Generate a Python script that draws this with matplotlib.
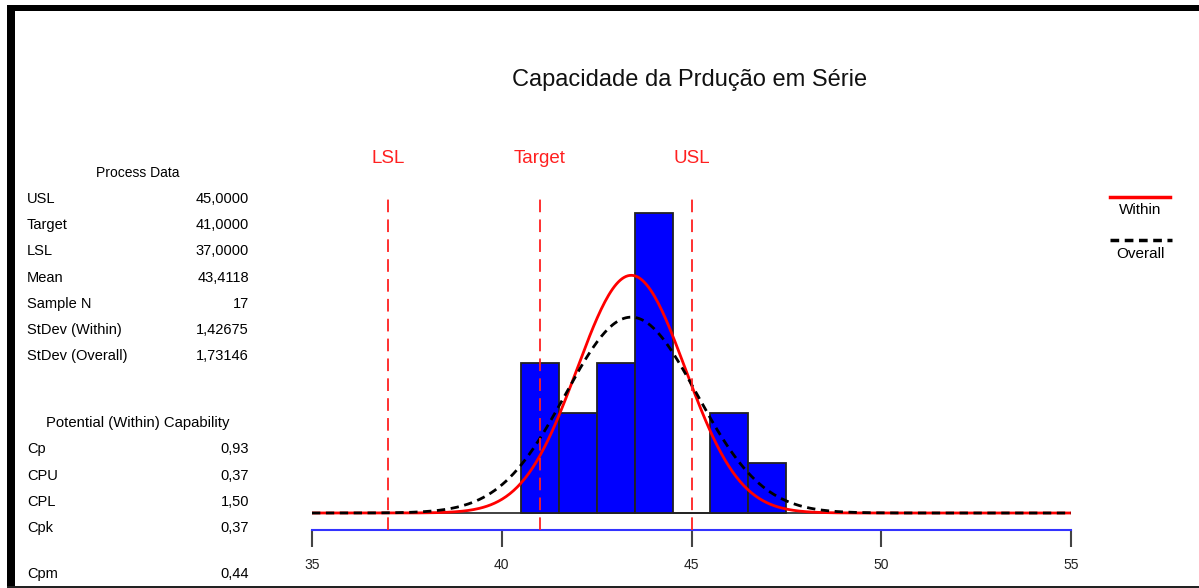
import matplotlib
matplotlib.use("Agg")
import matplotlib.pyplot as plt
import numpy as np
from matplotlib.lines import Line2D
from matplotlib.patches import Rectangle

plt.rcParams['font.family'] = ['Liberation Sans', 'DejaVu Sans']

# histogram data (bin edges, counts)
bin_edges = [40.5, 41.5, 42.5, 43.5, 44.5, 45.5, 46.5, 47.5]
counts = [3, 2, 3, 6, 0, 2, 1]

# specification limits
lsl, target, usl = 37.0, 41.0, 45.0
mean = 43.4118
n = 17
sd_within = 1.42675
sd_overall = 1.73146

process_labels = ['USL', 'Target', 'LSL', 'Mean', 'Sample N', 'StDev (Within)', 'StDev (Overall)']
process_values = ['45,0000', '41,0000', '37,0000', '43,4118', '17', '1,42675', '1,73146']
cap_labels = ['Cp', 'CPU', 'CPL', 'Cpk', 'Cpm']
cap_values = ['0,93', '0,37', '1,50', '0,37', '0,44']

W, H = 1199, 588
fig = plt.figure(figsize=(W / 100, H / 100), dpi=100)


def fx(x):
    return x / W


def fy(y):
    return 1 - y / H


# main axes: x 35..55 -> px 312..1071, blue axis line at px y=530
ax = fig.add_axes([fx(312), fy(530), fx(1071) - fx(312), fy(150) - fy(530)])
ax.set_xlim(35, 55)
ax.set_ylim(-0.34, 7.26)

widths = np.diff(bin_edges)
lefts = np.array(bin_edges[:-1])
ax.bar(lefts, counts, width=widths, align='edge', color='#0000ff',
       edgecolor='#222222', linewidth=1.3, zorder=2)

xs = np.linspace(35, 55, 400)
binw = widths[0]
within = n * binw * np.exp(-0.5 * ((xs - mean) / sd_within) ** 2) / (sd_within * np.sqrt(2 * np.pi))
overall = n * binw * np.exp(-0.5 * ((xs - mean) / sd_overall) ** 2) / (sd_overall * np.sqrt(2 * np.pi))

ax.plot([35, 55], [0, 0], color='#333333', lw=1.3, zorder=1)
ax.plot(xs, within, color='red', lw=2, zorder=3)
ax.plot(xs, overall, color='black', lw=2, ls=(0, (3, 2)), zorder=4)

for v, name in [(lsl, 'LSL'), (target, 'Target'), (usl, 'USL')]:
    ax.plot([v, v], [-0.34, 6.36], color='#ff2020', lw=1.3, ls=(0, (7, 4)), zorder=5, clip_on=False)
    ax.text(v, 7.08, name, color='#ff2020', fontsize=13.5, ha='center', va='center')

for s in ['top', 'right', 'left']:
    ax.spines[s].set_visible(False)
ax.spines['bottom'].set_color('#3333ff')
ax.spines['bottom'].set_linewidth(1.5)
ax.set_yticks([])
ax.set_xticks([35, 40, 45, 50, 55])
ax.tick_params(axis='x', length=12, width=1.5, color='#444444', pad=8,
               labelsize=10, labelcolor='#222222')

fig.text(fx(690), fy(80), 'Capacidade da Prdução em Série', fontsize=17,
         ha='center', va='center', color='#111111')

# process data table
fig.text(fx(138), fy(173), 'Process Data', fontsize=10, ha='center', va='center')
for i, (lab, val) in enumerate(zip(process_labels, process_values)):
    y = 199 + i * 26.2
    fig.text(fx(27), fy(y), lab, fontsize=10.5, ha='left', va='center')
    fig.text(fx(249), fy(y), val, fontsize=10.5, ha='right', va='center')

fig.text(fx(138), fy(423), 'Potential (Within) Capability', fontsize=10.7, ha='center', va='center')
cap_rows_y = [449, 475.5, 502, 528, 574]
for y, lab, val in zip(cap_rows_y, cap_labels, cap_values):
    fig.text(fx(27), fy(y), lab, fontsize=10.5, ha='left', va='center')
    fig.text(fx(249), fy(y), val, fontsize=10.5, ha='right', va='center')

# legend on the right
fig.add_artist(Line2D([fx(1110), fx(1170)], [fy(197), fy(197)], color='red', lw=2.5))
fig.text(fx(1140), fy(210), 'Within', fontsize=11, ha='center', va='center')
fig.add_artist(Line2D([fx(1110), fx(1172)], [fy(240), fy(240)], color='black', lw=2.5, ls=(0, (2.5, 1.6))))
fig.text(fx(1140), fy(254), 'Overall', fontsize=11, ha='center', va='center')

# frame around the picture
fig.add_artist(Rectangle((fx(7), fy(11)), 1 - fx(7), fy(5) - fy(11), color='black', lw=0))
fig.add_artist(Rectangle((fx(7), 0), fx(15) - fx(7), fy(5), color='black', lw=0))
fig.add_artist(Rectangle((fx(7), 0), 1 - fx(7), fy(586), color='#222222', lw=0))

fig.savefig('out.png', dpi=100)
